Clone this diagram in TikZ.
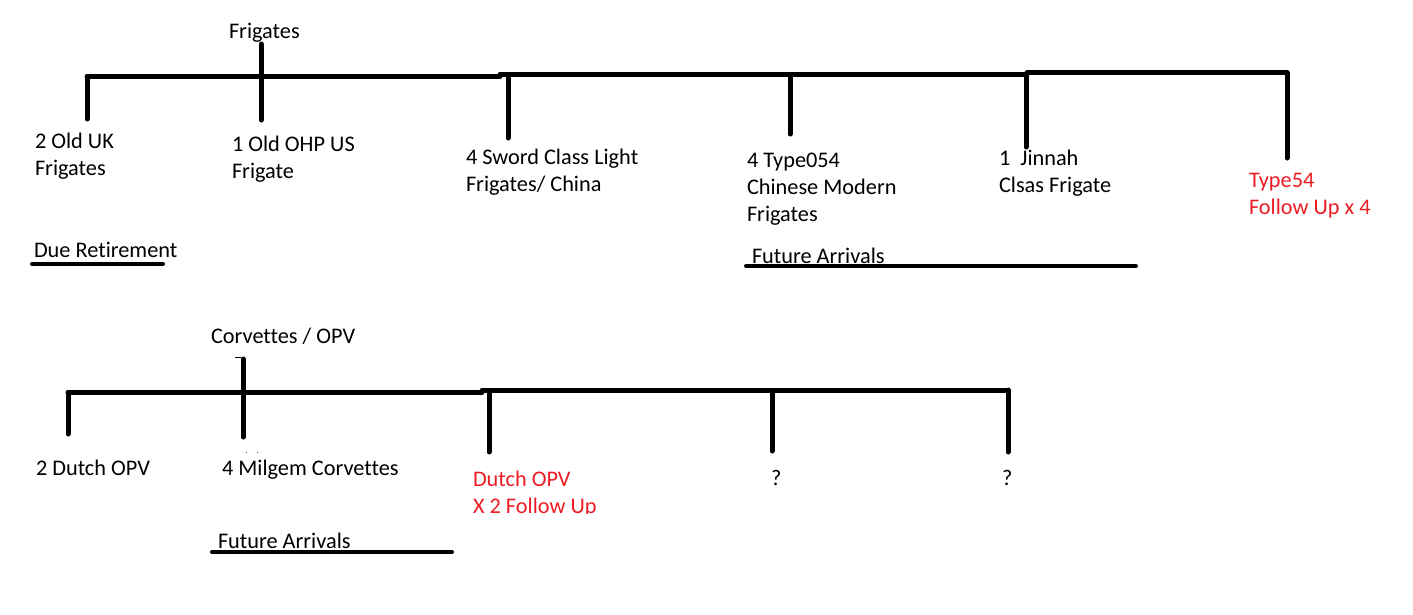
\documentclass[tikz,border=0pt]{standalone}
\usepackage{fontspec}
\setmainfont{Carlito}[RawFeature={-liga;-clig}]
\definecolor{pred}{HTML}{ED1C24}
\newcommand{\mlines}[1]{\begin{tabular}[t]{@{}l@{}}#1\end{tabular}}
\begin{document}
\begin{tikzpicture}[x=1pt,y=-1pt,
  bus/.style={line width=5pt,line cap=round},
  uline/.style={line width=4pt,line cap=round},
  lbl/.style={anchor=base west,inner sep=0pt,outer sep=0pt,font=\fontsize{22.3}{27}\selectfont},
  redlbl/.style={lbl,text=pred}]
\useasboundingbox[fill=white] (0,0) rectangle (1413,614);

% ---------------- Frigates ----------------
\node[lbl] (frig) at (229,38) {Frigates};
\coordinate (ft) at (261,44);
\coordinate (a0) at (87,76.5);  \coordinate (a1) at (500,76.5);
\coordinate (b0) at (500,74.5); \coordinate (b1) at (787,74.5);
\coordinate (c0) at (787,74);   \coordinate (c1) at (1027,74);
\coordinate (d0) at (1027,72.7);\coordinate (d1) at (1287,72.7);
\draw[bus] (a0) -- (a1);
\draw[bus] (b0) -- (b1);
\draw[bus] (c0) -- (c1);
\draw[bus] (d0) -- (d1);

\coordinate (s1) at (87,119);
\coordinate (s2) at (261,120);
\coordinate (s3t) at (508,75.5);  \coordinate (s3) at (508,138);
\coordinate (s4t) at (790,74.5);  \coordinate (s4) at (790,134);
\coordinate (s5t) at (1026,74);   \coordinate (s5) at (1026,147);
\draw[bus] (a0) -- (s1);
\draw[bus] (ft) -- (s2);
\draw[bus] (s3t) -- (s3);
\draw[bus] (s4t) -- (s4);
\draw[bus] (s5t) -- (s5);
\draw[bus] (d1) -- (1287,158) coordinate (s6);

\node[lbl] (uk) at (35,148) {\mlines{2 Old UK\\Frigates}};
\node[lbl] (ohp) at (232,151) {\mlines{1 Old OHP US\\Frigate}};
\node[lbl] (sword) at (466,164) {\mlines{4 Sword Class Light\\Frigates/ China}};
\node[lbl] (t054) at (747,167) {\mlines{4 Type054\\Chinese Modern\\Frigates}};
\node[lbl] (jin) at (999,165) {\mlines{1\ \ Jinnah\\Clsas Frigate}};
\node[redlbl] (t54) at (1249,187) {\mlines{Type54\\Follow Up x 4}};

\node[lbl] (due) at (34,257) {Due Retirement};
\coordinate (u1a) at (32,264); \coordinate (u1b) at (163,264);
\draw[uline] (u1a) -- (u1b);
\node[lbl] (fut1) at (752,263) {Future Arrivals};
\coordinate (u2a) at (746,266); \coordinate (u2b) at (1136,266);
\draw[uline] (u2a) -- (u2b);

% ---------------- Corvettes / OPV ----------------
\node[lbl] (corv) at (211,343) {Corvettes / OPV};
\coordinate (ct) at (243,359);
\draw[line width=1pt] (235,357) -- (241,357);
\coordinate (e0) at (68,392.5);  \coordinate (e1) at (482,392.5);
\coordinate (g0) at (482,390.7); \coordinate (g1) at (768,390.7);
\coordinate (h0) at (768,390);   \coordinate (h1) at (1008,390);
\draw[bus] (e0) -- (e1);
\draw[bus] (g0) -- (g1);
\draw[bus] (h0) -- (h1);

\coordinate (v1) at (68,434);
\coordinate (v2) at (243,437);
\coordinate (v3t) at (489,391.5); \coordinate (v3) at (489,452);
\coordinate (v4t) at (772,390.5); \coordinate (v4) at (772,451);
\coordinate (v5) at (1008,452);
\draw[bus] (e0) -- (v1);
\draw[bus] (ct) -- (v2);
\draw[bus] (v3t) -- (v3);
\draw[bus] (v4t) -- (v4);
\draw[bus] (h1) -- (v5);

\fill[black!60] (246.5,452.5) circle (0.7);
\fill[black!60] (257.5,452.5) circle (0.7);

\node[lbl] (dopv) at (36,475) {2 Dutch OPV};
\node[lbl] (milg) at (222,475) {4 Milgem Corvettes};
\begin{scope}
\clip (0,0) rectangle (1413,513.5);
\node[redlbl] (dfu) at (473,486) {\mlines{Dutch OPV\\X 2 Follow Up}};
\end{scope}
\node[lbl] (q1) at (771,485) {?};
\node[lbl] (q2) at (1002,485) {?};

\node[lbl] (fut2) at (218,548) {Future Arrivals};
\coordinate (u3a) at (212,552); \coordinate (u3b) at (452,552);
\draw[uline] (u3a) -- (u3b);
\end{tikzpicture}
\end{document}
